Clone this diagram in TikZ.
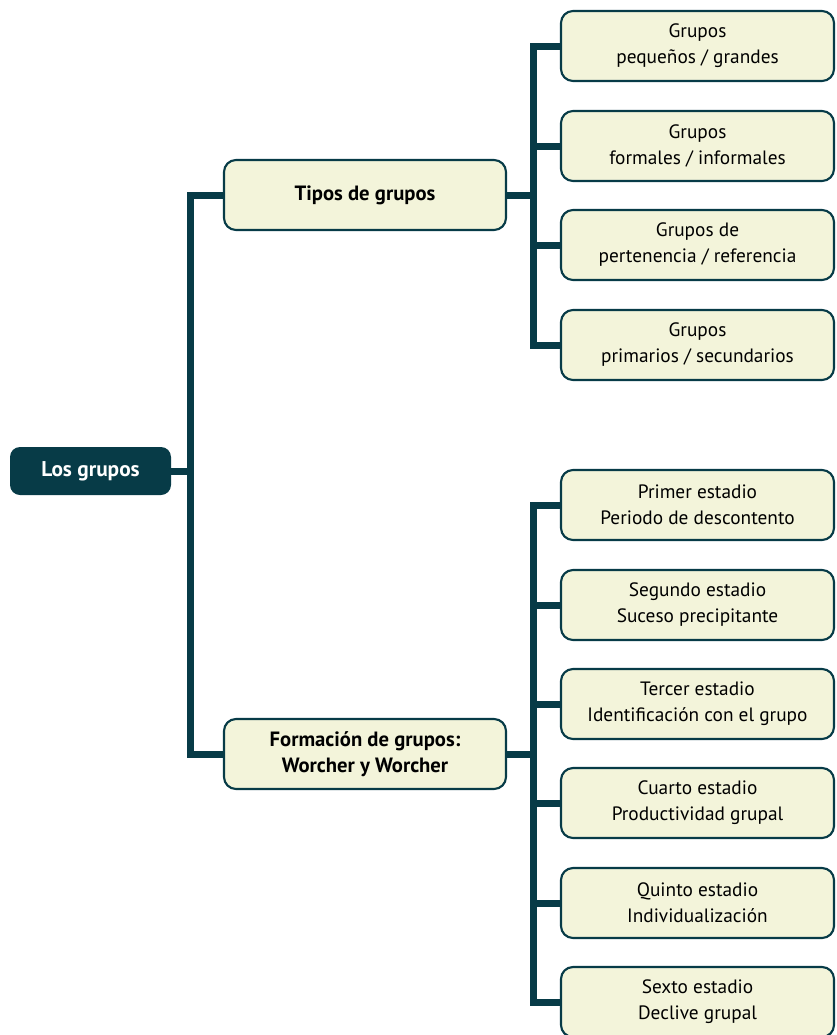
\documentclass[tikz,border=0pt]{standalone}
\usepackage{fontspec}
\setmainfont{PT Sans}
\usetikzlibrary{positioning}
\definecolor{petrol}{HTML}{073B47}
\definecolor{paleleaf}{HTML}{F3F4DA}

\begin{document}
\begin{tikzpicture}[x=0.75pt,y=-0.75pt,
root/.style={rounded corners=7.5pt,fill=petrol,text=white,
  font=\bfseries\fontsize{16}{19}\selectfont,
  minimum width=120.75pt,minimum height=36pt},
topic/.style={rounded corners=9pt,draw=petrol,line width=1.6pt,fill=paleleaf,
  align=center,font=\bfseries\fontsize{15.5}{19.5}\selectfont,
  minimum width=211.5pt,minimum height=52.5pt},
leaf/.style={rounded corners=9pt,draw=petrol,line width=1.6pt,fill=paleleaf,
  align=center,font=\fontsize{14.5}{19.5}\selectfont,
  minimum width=204.75pt,minimum height=52.5pt},
link/.style={petrol,line width=5.25pt}]
\useasboundingbox (0,0) rectangle (836,1035);

\node[root] (los) at (90.5,471) {Los grupos};
\node[topic] (tipos) at (365,195) {Tipos de grupos};
\node[topic] (formacion) at (365,754) {Formación de grupos:\\Worcher y Worcher};

\node[leaf] (tamano) at (697.5,46) {Grupos\\pequeños / grandes};
\node[leaf] (formales) at (697.5,146) {Grupos\\formales / informales};
\node[leaf] (pertenencia) at (697.5,245) {Grupos de\\pertenencia / referencia};
\node[leaf] (primarios) at (697.5,345) {Grupos\\primarios / secundarios};

\node[leaf] (primero) at (697.5,505) {Primer estadio\\Periodo de descontento};
\node[leaf] (segundo) at (697.5,605) {Segundo estadio\\Suceso precipitante};
\node[leaf] (tercero) at (697.5,704) {Tercer estadio\\Identificación con el grupo};
\node[leaf] (cuarto) at (697.5,803) {Cuarto estadio\\Productividad grupal};
\node[leaf] (quinto) at (697.5,903) {Quinto estadio\\Individualización};
\node[leaf] (sexto) at (697.5,1002) {Sexto estadio\\Declive grupal};

% trunk and buses
\coordinate (trunk) at (190,471);
\coordinate (tbus) at (533,195);
\coordinate (fbus) at (533,754);

\draw[link] (los.east) -- (trunk);
\draw[link] (tipos.west) -| (trunk) |- (formacion.west);

\draw[link] (tipos.east) -- (tbus);
\draw[link] (tbus) |- (tamano.west);
\draw[link] (tbus) |- (formales.west);
\draw[link] (tbus) |- (pertenencia.west);
\draw[link] (tbus) |- (primarios.west);

\draw[link] (formacion.east) -- (fbus);
\draw[link] (fbus) |- (primero.west);
\draw[link] (fbus) |- (segundo.west);
\draw[link] (fbus) |- (tercero.west);
\draw[link] (fbus) |- (cuarto.west);
\draw[link] (fbus) |- (quinto.west);
\draw[link] (fbus) |- (sexto.west);
\end{tikzpicture}
\end{document}
